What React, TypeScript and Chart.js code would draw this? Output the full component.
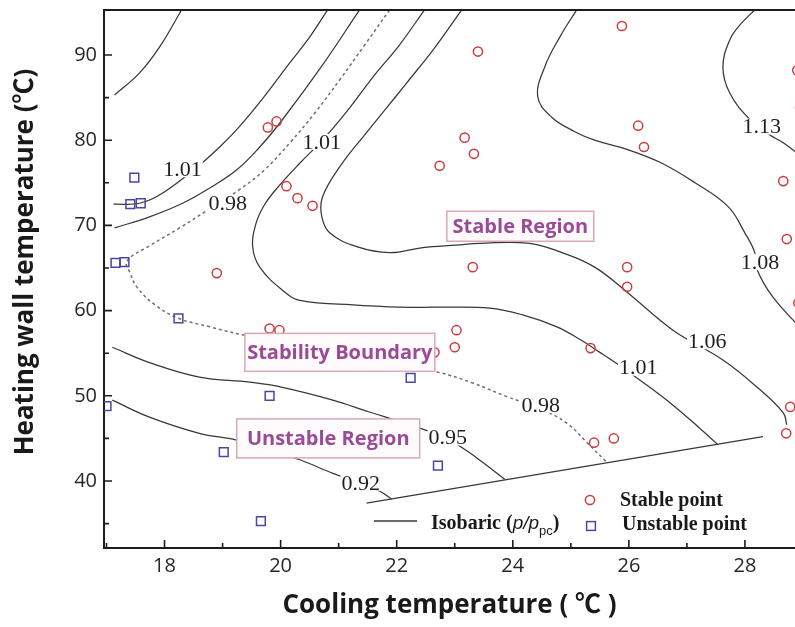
import React, { useEffect, useRef } from 'react';
import { Chart, registerables } from 'chart.js';

Chart.register(...registerables);

type P = [number, number];

// ---- axis ranges & ticks ----
const X_MIN = 16.957;
const X_MAX = 28.862;
const Y_MIN = 32.14;
const Y_MAX = 95.28;
const xTicks = [18, 20, 22, 24, 26, 28];
const xMinorTicks = [17, 19, 21, 23, 25, 27];
const yTicks = [40, 50, 60, 70, 80, 90];
const yMinorTicks = [35, 45, 55, 65, 75, 85];

// ---- measured points ----
const stablePoints: P[] = [
  [19.78, 81.5], [19.93, 82.2], [20.1, 74.6], [20.29, 73.2], [20.55, 72.3], [18.9, 64.4],
  [25.88, 93.4], [23.4, 90.4], [26.16, 81.7], [26.26, 79.2], [23.17, 80.3], [23.33, 78.4],
  [22.74, 77.0], [28.66, 75.2], [28.72, 68.4], [28.9, 88.2], [28.95, 83.8], [28.92, 60.9],
  [23.31, 65.1], [25.97, 65.1], [25.97, 62.8], [19.81, 57.9], [19.98, 57.7], [23.03, 57.7],
  [23.0, 55.7], [25.34, 55.6], [25.4, 44.5], [25.74, 45.0], [28.78, 48.7], [28.71, 45.6],
  [22.65, 55.1],
];
const unstablePoints: P[] = [
  [17.48, 75.6], [17.41, 72.5], [17.59, 72.6], [17.155, 65.6], [17.31, 65.7], [18.24, 59.1],
  [19.81, 50.0], [19.02, 43.4], [19.66, 35.3], [17.0, 48.8], [22.24, 52.1], [22.71, 41.8],
];

// ---- isobaric contour lines (p/p_pc) ----
const isoA: P[] = [[17.14, 85.3], [17.57, 87.9], [17.91, 90.9], [18.26, 94.9], [18.31, 95.6]];
const isoB: P[] = [
  [17.12, 72.5], [17.57, 72.6], [17.97, 73.8], [18.64, 77.3], [18.98, 79.4], [19.29, 81.6],
  [19.67, 84.7], [20.16, 89.1], [20.5, 92.1], [20.81, 95.3],
];
const isoC: P[] = [
  [17.14, 69.7], [17.74, 71.0], [18.31, 72.6], [18.78, 74.4], [19.24, 76.5], [19.64, 79.2],
  [20.03, 82.4], [20.72, 88.8], [21.36, 95.3],
];
const boundary098: P[] = [
  [21.88, 95.3], [21.45, 91.2], [21.02, 87.1], [20.59, 83.2], [20.16, 79.7], [19.72, 76.5],
  [19.29, 74.2], [18.72, 71.7], [18.26, 69.7], [17.74, 67.6], [17.35, 65.8], [17.4, 64.5],
  [17.53, 62.7], [17.83, 60.7], [18.24, 59.1], [18.78, 58.1], [19.38, 57.1], [21.0, 55.0],
  [22.69, 52.8], [23.31, 51.5], [23.9, 49.9], [24.47, 48.5], [24.93, 46.8], [25.28, 44.5],
  [25.62, 42.2],
];
const isoD: P[] = [
  [22.48, 95.3], [22.05, 91.2], [21.59, 87.4], [21.19, 83.8], [20.76, 80.3], [20.33, 77.3],
  [19.98, 74.7], [19.72, 72.4], [19.57, 70.1], [19.52, 67.4], [19.64, 65.1], [20.03, 62.4],
  [20.33, 61.2], [21.19, 60.7], [22.05, 60.4], [22.74, 60.4], [23.6, 60.3], [24.17, 59.5],
  [24.76, 58.1], [25.16, 56.6], [25.5, 55.1], [25.85, 53.5], [26.24, 51.6], [26.76, 48.9],
  [27.22, 46.2], [27.53, 44.3],
];
const isoE: P[] = [
  [23.12, 95.3], [22.66, 90.9], [22.17, 86.7], [21.79, 83.5], [21.48, 80.9], [21.02, 76.9],
  [20.72, 73.3], [20.71, 71.0], [20.85, 69.1], [21.31, 67.5], [21.88, 66.8], [22.45, 67.4],
  [23.03, 67.7], [23.43, 67.9], [24.29, 67.9], [24.85, 66.8], [25.41, 65.1], [25.98, 62.1],
  [26.76, 57.7], [27.62, 54.2], [28.21, 51.0], [28.66, 48.0], [28.72, 46.6],
];
const isoF: P[] = [
  [25.1, 95.3], [24.81, 92.1], [24.55, 88.6], [24.43, 85.1], [24.67, 82.7], [25.07, 81.0],
  [25.41, 80.0], [25.98, 78.9], [26.57, 77.3], [27.14, 75.0], [27.71, 72.2], [28.0, 69.1],
  [28.17, 66.8], [28.21, 64.8], [28.48, 61.6], [28.95, 58.0],
];
const isoG: P[] = [
  [28.17, 95.3], [27.91, 93.5], [27.74, 91.8], [27.62, 88.6], [27.74, 85.5], [28.09, 82.4],
  [28.43, 80.6], [28.66, 79.7], [28.95, 78.2],
];
const isoH: P[] = [
  [17.1, 55.7], [17.74, 53.9], [18.6, 52.2], [19.47, 51.6], [20.03, 51.0], [20.9, 49.5],
  [21.53, 48.1], [22.05, 47.0], [22.4, 46.2], [22.83, 45.1], [23.22, 43.5], [23.48, 42.2],
  [23.86, 40.2],
];
const isoI: P[] = [
  [17.1, 49.5], [17.74, 47.5], [18.6, 45.6], [19.24, 44.8], [19.81, 43.6], [20.33, 42.5],
  [20.9, 40.9], [21.36, 39.8], [21.71, 38.8], [21.91, 37.9],
];
const limitLine: P[] = [[21.48, 37.4], [28.31, 45.2]];

// ---- contour labels: text, x, y ----
const contourLabelText = ['1.01', '0.98', '1.01', '1.13', '1.08', '1.06', '1.01', '0.98', '0.95', '0.92'];
const contourLabelX = [18.31, 19.09, 20.71, 28.29, 28.26, 27.35, 26.16, 24.48, 22.88, 21.38];
const contourLabelY = [76.6, 72.6, 79.8, 81.6, 65.7, 56.4, 53.3, 48.9, 45.1, 39.8];

// ---- region annotations ----
const regionText = ['Stable Region', 'Stability Boundary', 'Unstable Region'];
const regionX = [24.13, 21.02, 20.82];
const regionY = [69.9, 55.1, 45.0];
const regionBoxSize: P[] = [[147, 30], [190, 38], [183, 39]];

const AXIS = '#1c1c1c';
const LINE = '#383838';
const RED = '#cc3d3d';
const BLUE = '#4848a0';
const PURPLE = '#9a4a96';
const SANS = "'Open Sans', 'Noto Sans CJK SC', sans-serif";
const SERIF = "'Liberation Serif', 'Times New Roman', serif";

const toPts = (a: P[]) => a.map(([x, y]) => ({ x, y }));

const lineDs = (data: P[], dashed = false) => ({
  data: toPts(data),
  showLine: true,
  pointRadius: 0,
  borderColor: dashed ? '#707070' : LINE,
  backgroundColor: 'rgba(0,0,0,0)',
  borderWidth: dashed ? 1.5 : 1.25,
  borderDash: dashed ? [3, 3] : [],
  tension: 0.4,
  order: 2,
});

const zeroPad = (s: any) => {
  s.paddingTop = 0;
  s.paddingBottom = 0;
  s.paddingLeft = 0;
  s.paddingRight = 0;
};

const decorPlugin = {
  id: 'decor',
  afterDatasetsDraw(chart: any) {
    const { ctx, chartArea: a, scales } = chart;
    const px = (v: number) => scales.x.getPixelForValue(v);
    const py = (v: number) => scales.y.getPixelForValue(v);
    ctx.save();

    // top frame
    ctx.strokeStyle = AXIS;
    ctx.lineWidth = 2;
    ctx.beginPath();
    ctx.moveTo(a.left - 1, a.top);
    ctx.lineTo(a.right, a.top);
    ctx.stroke();

    // inward ticks
    ctx.lineWidth = 1.6;
    ctx.beginPath();
    xTicks.forEach((v) => { const p = px(v); ctx.moveTo(p, a.bottom); ctx.lineTo(p, a.bottom - 8); });
    xMinorTicks.forEach((v) => { const p = px(v); ctx.moveTo(p, a.bottom); ctx.lineTo(p, a.bottom - 5); });
    yTicks.forEach((v) => { const p = py(v); ctx.moveTo(a.left, p); ctx.lineTo(a.left + 8, p); });
    yMinorTicks.forEach((v) => { const p = py(v); ctx.moveTo(a.left, p); ctx.lineTo(a.left + 5, p); });
    ctx.stroke();

    // contour labels
    ctx.font = `22px ${SERIF}`;
    ctx.textAlign = 'center';
    ctx.textBaseline = 'middle';
    contourLabelText.forEach((t, i) => {
      const cx = px(contourLabelX[i]);
      const cy = py(contourLabelY[i]);
      const w = ctx.measureText(t).width;
      ctx.fillStyle = '#ffffff';
      ctx.fillRect(cx - w / 2 - 1, cy - 8, w + 2, 16);
      ctx.fillStyle = '#1e1e1e';
      ctx.fillText(t, cx, cy + 1);
    });

    // region boxes
    ctx.font = `bold 20px ${SANS}`;
    regionText.forEach((t, i) => {
      const cx = px(regionX[i]);
      const cy = py(regionY[i]);
      const [w, h] = regionBoxSize[i];
      ctx.fillStyle = '#fffbfc';
      ctx.fillRect(cx - w / 2, cy - h / 2, w, h);
      ctx.strokeStyle = '#d9a9b4';
      ctx.lineWidth = 1.5;
      ctx.strokeRect(cx - w / 2, cy - h / 2, w, h);
      ctx.fillStyle = PURPLE;
      ctx.fillText(t, cx, cy + 1);
    });
    ctx.restore();
  },
  afterDraw(chart: any) {
    const { ctx, chartArea: a } = chart;
    ctx.save();
    // axis titles
    ctx.fillStyle = '#1a1a1a';
    ctx.font = `bold 26px ${SANS}`;
    ctx.textAlign = 'center';
    ctx.textBaseline = 'middle';
    ctx.fillText('Cooling temperature ( ℃ )', (a.left + a.right) / 2, a.bottom + 58);
    ctx.save();
    ctx.translate(26, a.top + 252);
    ctx.rotate(-Math.PI / 2);
    ctx.fillText('Heating wall temperature (℃)', 0, 0);
    ctx.restore();

    // legend
    const lx = a.left + 270;
    const ly = a.bottom - 27;
    ctx.strokeStyle = LINE;
    ctx.lineWidth = 1.3;
    ctx.beginPath();
    ctx.moveTo(lx, ly);
    ctx.lineTo(lx + 43, ly);
    ctx.stroke();
    ctx.textAlign = 'left';
    ctx.fillStyle = '#1a1a1a';
    let tx = lx + 57;
    const ty = ly + 3;
    ctx.font = `bold 20px ${SERIF}`;
    ctx.fillText('Isobaric (', tx, ty);
    tx += ctx.measureText('Isobaric (').width;
    ctx.font = "italic 19px 'Liberation Sans', sans-serif";
    ctx.fillText('p/p', tx, ty);
    tx += ctx.measureText('p/p').width;
    ctx.font = "13px 'Liberation Sans', sans-serif";
    ctx.fillText('pc', tx, ty + 7);
    tx += ctx.measureText('pc').width;
    ctx.font = `bold 20px ${SERIF}`;
    ctx.fillText(')', tx, ty);

    const sx = a.left + 486;
    ctx.lineWidth = 1.5;
    ctx.strokeStyle = RED;
    ctx.beginPath();
    ctx.arc(sx, a.bottom - 48, 4.6, 0, Math.PI * 2);
    ctx.stroke();
    ctx.strokeStyle = BLUE;
    ctx.strokeRect(sx + 1 - 4.4, a.bottom - 22 - 4.4, 8.8, 8.8);
    ctx.font = `bold 20px ${SERIF}`;
    ctx.fillText('Stable point', sx + 30, a.bottom - 47);
    ctx.fillText('Unstable point', sx + 32, a.bottom - 23);
    ctx.restore();
  },
};

export default function App() {
  const ref = useRef<HTMLCanvasElement>(null);
  useEffect(() => {
    if (!ref.current) return;
    const chart = new Chart(ref.current, {
      type: 'scatter',
      data: {
        datasets: [
          {
            label: 'Stable point',
            data: toPts(stablePoints),
            pointStyle: 'circle',
            pointRadius: 4.6,
            borderColor: RED,
            backgroundColor: 'rgba(0,0,0,0)',
            borderWidth: 1.5,
            order: 1,
          },
          {
            label: 'Unstable point',
            data: toPts(unstablePoints),
            pointStyle: 'rect',
            pointRadius: 6.2,
            borderColor: BLUE,
            backgroundColor: 'rgba(0,0,0,0)',
            borderWidth: 1.5,
            order: 1,
          },
          lineDs(isoA),
          lineDs(isoB),
          lineDs(isoC),
          lineDs(boundary098, true),
          lineDs(isoD),
          lineDs(isoE),
          lineDs(isoF),
          lineDs(isoG),
          lineDs(isoH),
          lineDs(isoI),
          { ...lineDs(limitLine), tension: 0 },
        ] as any,
      },
      options: {
        animation: false,
        responsive: false,
        events: [],
        layout: { autoPadding: false, padding: { top: 10, left: 0, right: 0, bottom: 0 } },
        plugins: { legend: { display: false }, tooltip: { enabled: false } },
        scales: {
          x: {
            type: 'linear',
            min: X_MIN,
            max: X_MAX,
            grid: { display: false, drawTicks: false },
            border: { display: true, color: AXIS, width: 2 },
            ticks: {
              padding: 6,
              color: '#262626',
              font: { family: SANS, size: 20 },
              autoSkip: false,
              maxRotation: 0,
              callback: (v: any) => String(v),
            },
            afterBuildTicks: (s: any) => { s.ticks = xTicks.map((value) => ({ value })); },
            afterFit: (s: any) => { s.height = 79; zeroPad(s); },
          },
          y: {
            type: 'linear',
            min: Y_MIN,
            max: Y_MAX,
            grid: { display: false, drawTicks: false },
            border: { display: true, color: AXIS, width: 2 },
            ticks: {
              padding: 7,
              color: '#262626',
              font: { family: SANS, size: 20 },
              autoSkip: false,
              callback: (v: any) => String(v),
            },
            afterBuildTicks: (s: any) => { s.ticks = yTicks.map((value) => ({ value })); },
            afterFit: (s: any) => { s.width = 104; zeroPad(s); },
          },
        },
      } as any,
      plugins: [decorPlugin],
    });
    return () => chart.destroy();
  }, []);
  return (
    <div style={{ position: 'absolute', left: 0, top: 0, width: 795, height: 627, background: '#ffffff' }}>
      <canvas ref={ref} width={795} height={627} style={{ display: 'block' }} />
    </div>
  );
}
